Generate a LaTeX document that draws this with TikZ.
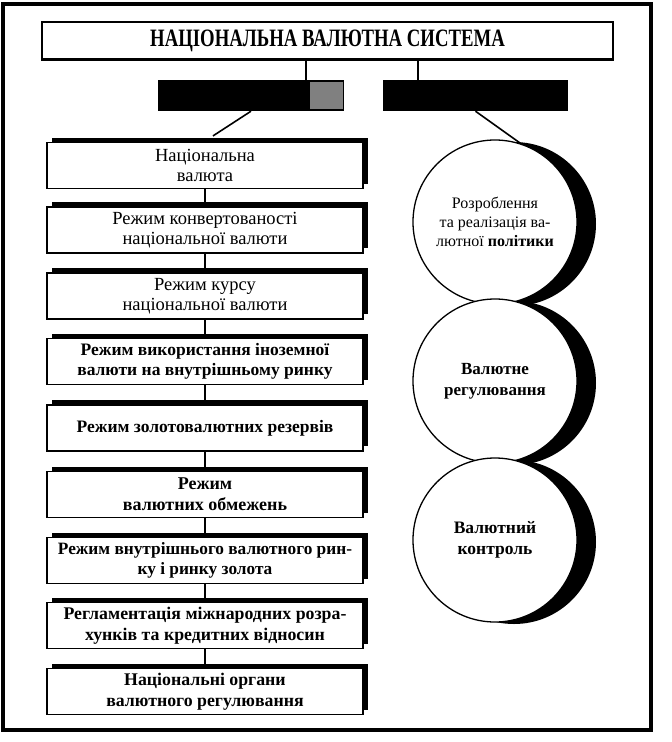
\documentclass[tikz,border=0pt]{standalone}
\usepackage{fontspec}
\usepackage{graphicx}
\setmainfont{Liberation Serif}
\usetikzlibrary{shadows,calc}
\newcommand{\fsz}[2]{\fontsize{#1}{#2}\selectfont}
\begin{document}
\begin{tikzpicture}[x=1pt,y=-1pt,
  rbox/.style={draw, line width=1.2pt, fill=white, minimum width=316pt, minimum height=46pt, inner sep=0pt, align=center,
    font=\fsz{17.5}{20.5}\bfseries,
    general shadow={fill=black, shadow xshift=5pt, shadow yshift=5pt}},
  rreg/.style={rbox, font=\fsz{18.5}{20.5}},
  circ/.style={circle, draw, line width=1.3pt, fill=white, minimum size=164pt, inner sep=0pt, align=center,
    font=\fsz{17}{21}\bfseries,
    general shadow={fill=black, shadow xshift=19pt, shadow yshift=-2pt}},
  conn/.style={line width=1.6pt},
  dark/.style={fill=black, minimum height=31pt, inner sep=0pt}]
\useasboundingbox (0,0) rectangle (672,742);
\draw[line width=3.5pt] (3,4) rectangle (651,730);

% title
\node[draw, line width=1.2pt, minimum width=571pt, minimum height=37pt, inner sep=0pt] (title) at (327.5,40.5)
  {\fsz{25}{25}\bfseries\scalebox{0.75}[1]{НАЦІОНАЛЬНА ВАЛЮТНА СИСТЕМА}};
\draw[line width=2.5pt] (title.south west) -- (title.south east);

% dark headers
\node[dark, minimum width=186pt] (ld) at (251,95.5) {};
\node[dark, minimum width=185pt] (rd) at (475.5,95.5) {};
\fill[black!50] (310,82) rectangle (343,109);

\coordinate (tl) at (306,0);
\coordinate (tr) at (418,0);
\draw[conn] (title.south -| tl) -- (ld.north -| tl);
\draw[conn] (title.south -| tr) -- (rd.north -| tr);

% left column
\node[rreg] (r1) at (205,165.5) {Національна\\валюта};
\node[rreg] (r2) at (205,230) {Режим конвертованості\\національної валюти};
\node[rreg] (r3) at (205,296) {Режим курсу\\національної валюти};
\node[rbox] (r4) at (205,361.5) {Режим використання іноземної\\валюти на внутрішньому ринку};
\node[rbox] (r5) at (205,428) {Режим золотовалютних резервів};
\node[rbox, font=\fsz{18}{21}\bfseries] (r6) at (205,494.5) {Режим\\валютних обмежень};
\node[rbox, font=\fsz{17.3}{20.5}\bfseries] (r7) at (205,560.5) {Режим внутрішнього валютного рин-\\ку і ринку золота};
\node[rbox, font=\fsz{17.8}{21}\bfseries] (r8) at (205,625.5) {Регламентація міжнародних розра-\\хунків та кредитних відносин};
\node[rbox, font=\fsz{17.8}{21}\bfseries] (r9) at (205,691.5) {Національні органи\\валютного регулювання};

\draw[conn] (ld.south) -- ($(r1.north)+(8,-6)$);
\foreach \a/\b in {r1/r2,r2/r3,r3/r4,r4/r5,r5/r6,r6/r7,r7/r8,r8/r9}
  \draw[conn] (\a.south) -- (\b.north);

% right column
\node[circ, font=\fsz{16}{19}] (c1) at (495,222) {Розроблення\\та реалізація ва-\\лютної \textbf{політики}};
\node[circ] (c2) at (495,381) {Валютне\\регулювання};
\node[circ, font=\fsz{17.5}{21}\bfseries] (c3) at (495,540) {Валютний\\контроль};
\draw[conn] (rd.south) -- (c1.72);
\end{tikzpicture}
\end{document}
